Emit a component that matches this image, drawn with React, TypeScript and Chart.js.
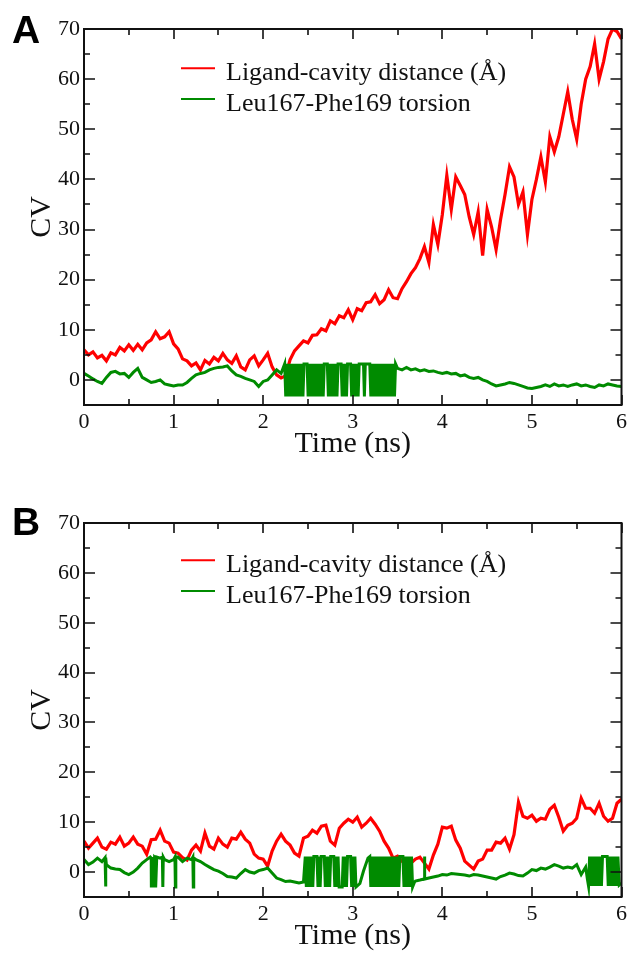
import React, { useEffect, useRef } from 'react';
import { Chart, registerables } from 'chart.js';

Chart.register(...registerables);

// ---------- data ----------
const STEP = 0.05; // ns between samples of the smooth traces
const xTicks = [0, 1, 2, 3, 4, 5, 6];
const yTicks = [0, 10, 20, 30, 40, 50, 60, 70];
const xMinorTicks = [0.5, 1.5, 2.5, 3.5, 4.5, 5.5];
const yMinorTicks = [5, 15, 25, 35, 45, 55, 65];
const distanceLabel = 'Ligand-cavity distance (Å)';
const torsionLabel = 'Leu167-Phe169 torsion';

// Panel A: ligand-cavity distance, 0..6 ns every 0.05 ns
const distanceA = [
  6.0, 5.0, 5.6, 4.4, 4.9, 3.8, 5.4, 5.0, 6.5, 5.8,
  7.0, 5.9, 7.1, 6.0, 7.4, 8.0, 9.6, 8.2, 8.6, 9.6,
  7.2, 6.2, 4.2, 3.8, 2.8, 3.4, 2.0, 3.9, 3.2, 4.5,
  3.8, 5.3, 4.0, 3.3, 4.8, 2.6, 2.0, 4.0, 4.8, 2.8,
  4.0, 5.3, 2.6, 1.0, 0.4, 0.8, 4.0, 5.8, 6.8, 7.8,
  7.4, 8.9, 9.0, 10.2, 9.8, 11.8, 11.2, 12.8, 12.4, 14.0,
  12.0, 14.2, 13.8, 15.4, 15.6, 17.0, 15.2, 16.0, 18.0, 16.4,
  16.2, 18.2, 19.6, 21.2, 22.4, 24.2, 26.6, 23.4, 31.0, 27.0,
  33.0, 40.8, 34.0, 40.5, 38.8, 37.0, 32.5, 29.0, 33.5, 24.8,
  34.0, 30.5, 26.0, 32.0, 37.0, 42.5, 40.5, 35.0, 37.5, 29.0,
  36.0, 40.0, 44.5, 39.5, 48.5, 45.5, 48.5, 53.0, 57.5, 52.0,
  48.0, 55.0, 60.0, 62.5, 67.0, 60.0, 63.5, 68.0, 70.0, 69.5,
  68.0,
];

// Panel A: torsion, smooth part (null where it flips rapidly)
const torsionA = [
  1.3, 0.8, 0.2, -0.3, -0.7, 0.5, 1.5, 1.7, 1.2, 1.3,
  0.5, 1.5, 2.3, 0.5, 0.0, -0.5, -0.3, 0.0, -0.8, -1.0,
  -1.2, -1.0, -1.0, -0.5, 0.3, 1.0, 1.3, 1.5, 2.0, 2.3,
  2.5, 2.6, 2.8, 1.8, 1.0, 0.7, 0.3, 0.0, -0.3, -1.3,
  -0.3, 0.0, 1.0, 2.0, 1.3,
  null, null, null, null, null, null, null, null, null, null,
  null, null, null, null, null, null, null, null, null, null,
  null, null, null, null, null,
  2.3, 2.0, 2.5, 2.0, 2.2, 1.8, 2.0, 1.7, 1.8, 1.5,
  1.3, 1.5, 1.2, 1.3, 0.8, 1.0, 0.5, 0.3, 0.5, 0.0,
  -0.3, -0.8, -1.2, -1.0, -0.8, -0.5, -0.7, -1.0, -1.3, -1.6,
  -1.7, -1.5, -1.3, -1.0, -1.3, -0.8, -1.2, -1.0, -1.3, -1.0,
  -0.8, -1.2, -1.0, -1.3, -1.5, -1.0, -1.2, -0.8, -1.0, -1.2,
  -1.3,
];

// Panel A: torsion rapid flips [time ns, value]
const torsionFlipsA = [
  [2.24, 3.2], [2.252, -3.3], [2.264, 3.2], [2.276, -3.3], [2.288, 3.2], [2.3, -3.3],
  [2.312, 3.2], [2.324, -3.3], [2.336, 3.2], [2.348, -3.3], [2.36, 3.2], [2.372, -3.3],
  [2.384, 3.2], [2.396, -3.3], [2.408, 3.2], [2.42, -3.3], [2.432, 3.2], [2.444, -3.3],
  [2.456, 3.2], [2.49, 3.2], [2.502, -3.3], [2.514, 3.2], [2.526, -3.3], [2.538, 3.2],
  [2.55, -3.3], [2.562, 3.2], [2.574, -3.3], [2.586, 3.2], [2.598, -3.3], [2.61, 3.2],
  [2.622, -3.3], [2.634, 3.2], [2.646, -3.3], [2.658, 3.2], [2.67, -3.3], [2.682, 3.2],
  [2.716, 3.2], [2.728, -3.3], [2.74, 3.2], [2.752, -3.3], [2.764, 3.2], [2.776, -3.3],
  [2.788, 3.2], [2.8, -3.3], [2.812, 3.2], [2.824, -3.3], [2.836, 3.2], [2.87, 3.2],
  [2.882, -3.3], [2.894, 3.2], [2.906, -3.3], [2.918, 3.2], [2.93, -3.3], [2.942, 3.2],
  [2.976, 3.2], [2.988, -3.3], [3.0, 3.2], [3.012, -3.3], [3.024, 3.2], [3.036, -3.3],
  [3.048, 3.2], [3.06, -3.3], [3.072, 3.2], [3.12, 3.2], [3.13, -3.3], [3.14, 3.2],
  [3.19, 3.2], [3.202, -3.3], [3.214, 3.2], [3.226, -3.3], [3.238, 3.2], [3.25, -3.3],
  [3.262, 3.2], [3.274, -3.3], [3.286, 3.2], [3.298, -3.3], [3.31, 3.2], [3.322, -3.3],
  [3.334, 3.2], [3.346, -3.3], [3.358, 3.2], [3.37, -3.3], [3.382, 3.2], [3.394, -3.3],
  [3.406, 3.2], [3.418, -3.3], [3.43, 3.2], [3.442, -3.3], [3.454, 3.2], [3.466, -3.3],
  [3.478, 3.2],
];

// Panel B: ligand-cavity distance
const distanceB = [
  6.2, 4.8, 5.8, 6.8, 5.0, 4.6, 6.0, 5.6, 7.0, 5.2,
  5.8, 7.0, 5.6, 5.2, 3.6, 6.5, 6.6, 8.4, 6.2, 5.8,
  4.0, 3.8, 2.9, 2.4, 4.4, 5.4, 4.2, 7.8, 5.2, 4.6,
  6.8, 5.6, 5.0, 6.8, 6.6, 8.0, 6.6, 5.8, 3.6, 2.8,
  2.6, 1.2, 4.2, 6.2, 7.6, 6.2, 5.4, 3.8, 3.2, 6.8,
  7.2, 8.4, 7.8, 9.2, 9.4, 6.2, 5.4, 8.8, 9.8, 10.6,
  10.0, 11.0, 9.0, 9.8, 10.8, 9.6, 8.2, 6.2, 4.8, 2.8,
  3.2, 2.2, 2.6, 1.8, 2.6, 3.0, 1.8, 0.6, 3.4, 5.6,
  9.0, 8.8, 9.2, 6.4, 4.8, 2.2, 1.4, 0.6, 2.2, 2.6,
  4.4, 4.4, 6.0, 5.8, 6.8, 4.6, 7.5, 14.0, 11.2, 10.8,
  11.4, 10.2, 10.8, 10.6, 12.6, 13.4, 11.0, 8.2, 9.4, 9.8,
  10.8, 14.8, 12.8, 12.8, 11.8, 13.8, 11.2, 10.2, 10.8, 13.8,
  14.6,
];

// Panel B: torsion, smooth part
const torsionB = [
  2.5, 1.5, 2.0, 2.8, 2.1, 1.5, 0.8, 0.6, 0.5, -0.1,
  -0.5, 0.0, 0.8, 1.8, 2.5, 2.8, 2.8, 2.8, 2.5, 2.1,
  2.5, 3.0, 2.1, 2.8, 2.5, 2.5, 2.1, 1.5, 1.0, 0.5,
  0.2, -0.3, -0.9, -1.0, -1.2, -0.3, 0.5, 0.0, -0.2, 0.3,
  0.5, 0.8, -0.2, -1.2, -1.5, -1.9, -1.8, -2.0, -2.2, -2.0,
  null, null, null, null, null, null, null, null, null, null,
  null, null, null, null, null, null, null, null, null, null,
  null, null, null, null,
  -1.8, -1.6, -1.4, -1.2, -1.0, -0.8,
  -0.5, -0.6, -0.3, -0.4, -0.5, -0.6, -0.8, -0.5, -0.6, -0.8,
  -1.0, -1.2, -1.4, -0.9, -0.6, -0.2, -0.4, -0.7, -0.8, -0.2,
  0.5, 0.3, 0.8, 0.6, 1.0, 1.5, 1.2, 0.8, 1.0, 0.8,
  1.5, -0.5, 1.0,
  null, null, null, null, null, null, null, null,
];

// Panel B: torsion rapid flips [time ns, value]
const torsionFlipsB = [
  [0.235, 2.9], [0.24, -2.9], [0.245, 2.8],
  [0.74, 3.0], [0.752, -3.1], [0.764, 3.0], [0.776, -3.1], [0.788, 3.0], [0.8, -3.1], [0.812, 3.0],
  [0.875, 3.0], [0.88, -3.0], [0.885, 3.0],
  [1.015, 3.0], [1.02, -3.0], [1.025, 3.0],
  [1.215, 3.0], [1.22, -3.0], [1.225, 2.8],
  [2.47, 3.1], [2.482, -3.0], [2.494, 3.1], [2.506, -3.0], [2.518, 3.1], [2.53, -3.0],
  [2.542, 3.1], [2.554, -3.0], [2.566, 3.1], [2.6, 3.1], [2.612, -3.0], [2.624, 3.1],
  [2.636, -3.0], [2.648, 3.1], [2.682, 3.1], [2.694, -3.0], [2.706, 3.1], [2.718, -3.0],
  [2.73, 3.1], [2.742, -3.0], [2.754, 3.1], [2.788, 3.1], [2.8, -3.0], [2.812, 3.1],
  [2.824, -3.0], [2.836, 3.1], [2.848, -3.0], [2.882, -3.0], [2.894, 3.1], [2.906, -3.0],
  [2.918, 3.1], [2.93, -3.0], [2.942, 3.1], [2.976, 3.1], [2.988, -3.0], [3.0, 3.1],
  [3.012, -3.0], [3.024, 3.1], [3.036, -3.0], [3.08, -2.3], [3.12, 0.2], [3.17, 2.8],
  [3.19, 3.1], [3.202, -3.0], [3.214, 3.1], [3.226, -3.0], [3.238, 3.1], [3.25, -3.0],
  [3.262, 3.1], [3.274, -3.0], [3.286, 3.1], [3.298, -3.0], [3.31, 3.1], [3.322, -3.0],
  [3.334, 3.1], [3.346, -3.0], [3.358, 3.1], [3.37, -3.0], [3.382, 3.1], [3.394, -3.0],
  [3.406, 3.1], [3.418, -3.0], [3.43, 3.1], [3.442, -3.0], [3.454, 3.1], [3.466, -3.0],
  [3.478, 3.1], [3.49, -3.0], [3.502, 3.1], [3.514, -3.0], [3.526, 3.1], [3.56, 3.1],
  [3.572, -3.0], [3.584, 3.1], [3.596, -3.0], [3.608, 3.1], [3.62, -3.0], [3.632, 3.1],
  [3.644, -3.0], [3.656, 3.1], [3.668, -3.0], [3.69, -2.0],
  [3.795, -1.4], [3.8, 3.1], [3.805, -1.4],
  [5.62, -1.5], [5.632, -2.8], [5.644, 3.1], [5.656, -2.8], [5.668, 3.1], [5.68, -2.8],
  [5.692, 3.1], [5.704, -2.8], [5.716, 3.1], [5.728, -2.8], [5.74, 3.1], [5.752, -2.8],
  [5.764, 3.1], [5.776, -2.8], [5.788, 3.1], [5.84, 3.1], [5.852, -2.8], [5.864, 3.1],
  [5.876, -2.8], [5.888, 3.1], [5.9, -2.8], [5.912, 3.1], [5.924, -2.8], [5.936, 3.1],
  [5.948, -2.8], [5.96, 3.1], [5.975, -2.6], [6.0, -2.2],
];

// ---------- helpers ----------
type Pt = { x: number; y: number };
function toPoints(values: (number | null)[]): Pt[] {
  const out: Pt[] = [];
  values.forEach((v, i) => {
    if (v !== null) out.push({ x: Math.round(i * STEP * 1000) / 1000, y: v });
  });
  return out;
}
function withFlips(values: (number | null)[], flips: number[][]): Pt[] {
  return [...toPoints(values), ...flips.map(([x, y]) => ({ x, y }))].sort((a, b) => a.x - b.x);
}

const SERIF = "'Liberation Serif', 'Times New Roman', serif";
const INK = '#111111';

const framePlugin = {
  id: 'frame',
  afterDraw(chart: any, _args: any, opts: any) {
    const { ctx, chartArea } = chart;
    const { left, right, top, bottom } = chartArea;
    const xs = chart.scales.x;
    const ys = chart.scales.y;
    ctx.save();
    // ticks (inward, all four sides)
    ctx.strokeStyle = INK;
    ctx.lineWidth = 1.6;
    ctx.beginPath();
    const seg = (x1: number, y1: number, x2: number, y2: number) => {
      ctx.moveTo(x1, y1);
      ctx.lineTo(x2, y2);
    };
    xTicks.forEach((v) => {
      const p = Math.round(xs.getPixelForValue(v));
      seg(p, bottom, p, bottom - 10);
      seg(p, top, p, top + 10);
    });
    xMinorTicks.forEach((v) => {
      const p = Math.round(xs.getPixelForValue(v));
      seg(p, bottom, p, bottom - 6);
      seg(p, top, p, top + 6);
    });
    yTicks.forEach((v) => {
      const p = Math.round(ys.getPixelForValue(v));
      seg(left, p, left + 11, p);
      seg(right, p, right - 11, p);
    });
    yMinorTicks.forEach((v) => {
      const p = Math.round(ys.getPixelForValue(v));
      seg(left, p, left + 6, p);
      seg(right, p, right - 6, p);
    });
    ctx.stroke();
    // frame
    ctx.lineWidth = 2;
    ctx.strokeRect(left, top, right - left, bottom - top);

    // legend
    const ds = chart.data.datasets;
    ds.forEach((d: any, i: number) => {
      const y = opts.legendY + i * 30.7;
      ctx.strokeStyle = d.borderColor;
      ctx.lineWidth = 2;
      ctx.beginPath();
      ctx.moveTo(left + 97, y);
      ctx.lineTo(left + 131, y);
      ctx.stroke();
      ctx.fillStyle = INK;
      ctx.font = `26px ${SERIF}`;
      ctx.textBaseline = 'alphabetic';
      ctx.textAlign = 'left';
      ctx.fillText(d.label, left + 142, y + 11.7);
    });

    // panel letter
    ctx.fillStyle = '#000';
    ctx.font = "bold 39px 'Liberation Sans', Arial, sans-serif";
    ctx.textBaseline = 'alphabetic';
    ctx.fillText(opts.letter, 12, opts.letterY);
    ctx.restore();
  },
};

type PanelProps = {
  top: number;
  padTop: number;
  letter: string;
  distance: (number | null)[];
  torsion: (number | null)[];
  flips: number[][];
};

function Panel({ top, padTop, letter, distance, torsion, flips }: PanelProps) {
  const ref = useRef<HTMLCanvasElement | null>(null);
  useEffect(() => {
    if (!ref.current) return;
    const tickFont = { family: SERIF, size: 22 };
    const chart = new Chart(ref.current, {
      type: 'line',
      data: {
        datasets: [
          {
            label: distanceLabel,
            data: toPoints(distance),
            borderColor: '#ff0000',
            borderWidth: 3.2,
            pointRadius: 0,
            tension: 0,
            order: 1,
          },
          {
            label: torsionLabel,
            data: withFlips(torsion, flips),
            borderColor: '#008b00',
            borderWidth: 3,
            pointRadius: 0,
            tension: 0,
            order: 0,
          },
        ],
      },
      options: {
        responsive: false,
        animation: false,
        events: [],
        layout: { padding: { top: padTop, right: 9, left: 0, bottom: 0 } },
        plugins: {
          legend: { display: false },
          tooltip: { enabled: false },
          frame: { letter, letterY: 43, legendY: 68.3 },
        } as any,
        scales: {
          x: {
            type: 'linear',
            min: 0,
            max: 6,
            afterBuildTicks: (s: any) => {
              s.ticks = xTicks.map((v) => ({ value: v }));
            },
            afterFit: (s: any) => {
              s.height = 57;
            },
            grid: { display: false, drawTicks: false },
            border: { display: false },
            ticks: { font: tickFont, color: INK, padding: 4, maxRotation: 0, autoSkip: false },
            title: {
              display: true,
              text: 'Time (ns)',
              font: { family: SERIF, size: 30 },
              color: INK,
              padding: { top: 0, bottom: 0 },
            },
          },
          y: {
            type: 'linear',
            min: -5,
            max: 70,
            afterBuildTicks: (s: any) => {
              s.ticks = yTicks.map((v) => ({ value: v }));
            },
            afterFit: (s: any) => {
              s.width = 84;
            },
            grid: { display: false, drawTicks: false },
            border: { display: false },
            ticks: { font: tickFont, color: INK, padding: 4, autoSkip: false },
            title: {
              display: true,
              text: 'CV',
              font: { family: SERIF, size: 30 },
              color: INK,
              padding: { top: 24, bottom: 0 },
            },
          },
        },
      },
      plugins: [framePlugin],
    } as any);
    return () => chart.destroy();
  }, []);
  return (
    <canvas
      ref={ref}
      width={631}
      height={462}
      style={{ position: 'absolute', left: 0, top, width: 631, height: 462 }}
    />
  );
}

export default function App() {
  return (
    <div style={{ position: 'absolute', left: 0, top: 0, width: 631, height: 954, background: '#fff' }}>
      <Panel top={0} padTop={29} letter="A" distance={distanceA} torsion={torsionA} flips={torsionFlipsA} />
      <Panel top={492} padTop={31} letter="B" distance={distanceB} torsion={torsionB} flips={torsionFlipsB} />
    </div>
  );
}
